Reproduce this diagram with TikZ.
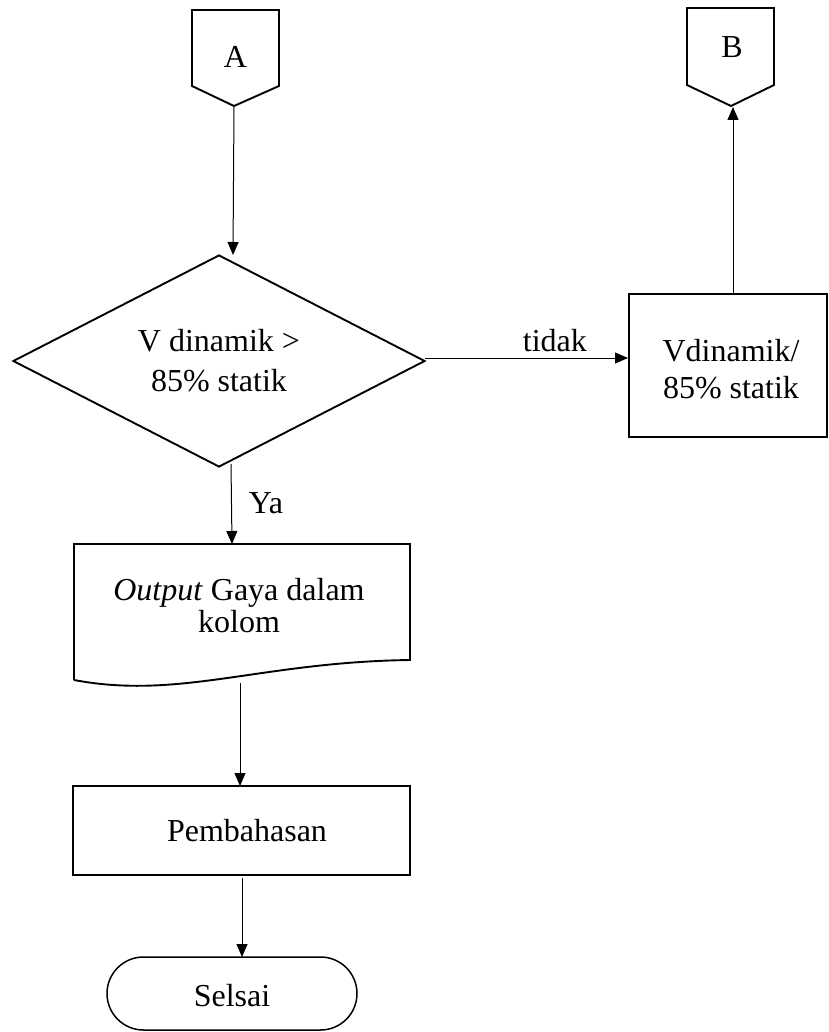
\documentclass[tikz,border=0pt]{standalone}
\usepackage{fontspec}
\setmainfont{Liberation Serif}
\usetikzlibrary{shapes.geometric,shapes.misc,arrows.meta,calc}
\begin{document}
\begin{tikzpicture}[x=1pt,y=-1pt,
  every node/.style={font=\fontsize{32}{38}\selectfont, inner sep=0pt},
  shapeline/.style={draw, line width=1.9pt},
  conn/.style={line width=1pt, -{Triangle[length=13pt,width=11pt]}},
  txt/.style={align=center}]
\useasboundingbox (0,0) rectangle (828,1032);
% off-page connector A
\node (A) at (235.5,58) [minimum width=87pt, minimum height=96pt] {};
\node (Alab) at (235.5,57) {A};
\draw[shapeline, line join=miter] (192,10) -- (279,10) -- (279,86) -- (234,106) -- (192,86) -- cycle;
\coordinate (Atip) at (234,106);
% off-page connector B
\node (B) at (730.5,57) [minimum width=87pt, minimum height=98pt] {};
\node (Blab) at (732,47) {B};
\draw[shapeline] (687,8) -- (774,8) -- (774,85) -- (731,106) -- (687,85) -- cycle;
\coordinate (Btip) at (733,107);
% decision
\node (D) at (219,361) [diamond, shapeline, minimum width=412pt, minimum height=212pt] {};
\node (Dtxt) at (219,361) [txt, font=\fontsize{32}{40}\selectfont] {V dinamik >\\85\% statik};
\coordinate (Dtop) at (233,255);
\coordinate (Dbot) at (231,464);
\coordinate (Dright) at (425,358);
% process Vdinamik
\node (V) at (728,365.5) [rectangle, shapeline, minimum width=198pt, minimum height=143pt] {};
\node (Vtxt) at (731,369) [txt, font=\fontsize{32}{37}\selectfont] {Vdinamik/\\85\% statik};
\coordinate (Vtop) at (733,294);
\coordinate (Vleft) at (628,358);
% output document
\coordinate (O1) at (74,544);
\coordinate (O2) at (410,544);
\coordinate (O3) at (410,660);
\coordinate (O4) at (74,680);
\draw[shapeline, line join=miter] (O4) -- (O1) -- (O2) -- (O3) .. controls (260,662) and (180,700) .. (O4);
\node (Otxt) at (239,606) [txt, font=\fontsize{32}{32}\selectfont] {\textit{Output} Gaya dalam\\kolom};
\coordinate (Otop) at (232,544);
\coordinate (Obot) at (240,683);
% Pembahasan
\node (P) at (241.5,830.5) [rectangle, shapeline, minimum width=337pt, minimum height=89pt] {};
\node (Ptxt) at (247,831) {Pembahasan};
\coordinate (Ptop) at (240,786);
\coordinate (Pbot) at (242,878);
% Selsai
\node (S) at (232,993.5) [rounded rectangle, draw, line width=1.5pt, minimum width=250pt, minimum height=73pt] {};
\node (Stxt) at (232,996) {Selsai};
\coordinate (Stop) at (242,957);
% connectors
\draw[conn] (Atip) -- (Dtop);
\draw[conn] (Dright) -- (Vleft) node[pos=0.64, above=6pt] (tidak) {tidak};
\draw[conn] (Vtop) -- (Btip);
\draw[conn] (Dbot) -- (Otop);
\node (Ya) at (266,503) {Ya};
\draw[conn] (Obot) -- (Ptop);
\draw[conn] (Pbot) -- (Stop);
\end{tikzpicture}
\end{document}
